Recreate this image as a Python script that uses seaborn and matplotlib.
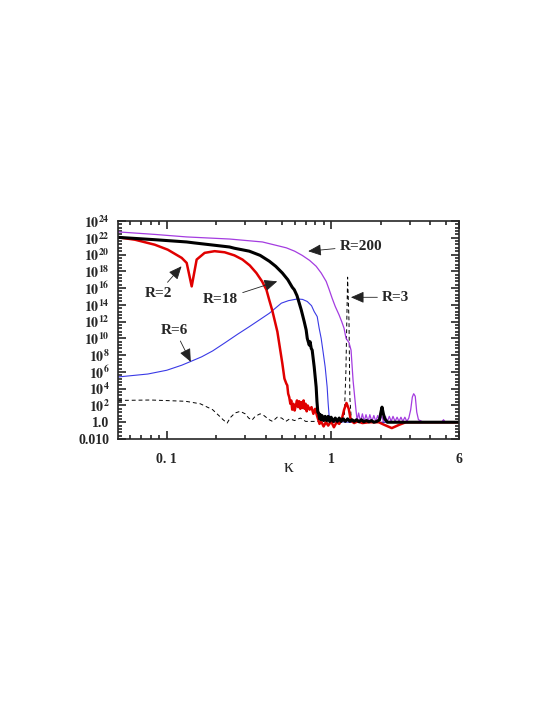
import numpy as np
import pandas as pd
import seaborn as sns
import matplotlib
matplotlib.use("Agg")
import matplotlib.pyplot as plt
from matplotlib.ticker import FixedLocator, LogLocator, NullFormatter

# curves: kappa and log10 of the quantity
k_200 = [0.0506, 0.0846, 0.1322, 0.241, 0.382, 0.534, 0.60, 0.667, 0.74, 0.811, 0.87, 0.933,
         0.97, 1.014, 1.06, 1.118, 1.16, 1.199, 1.233, 1.285, 1.322, 1.36, 1.398, 1.417, 1.44,
         1.47, 1.51, 1.55, 1.59, 1.63, 1.68, 1.72, 1.77, 1.82, 1.87, 1.92, 1.97, 2.03, 2.08, 2.14,
         2.20, 2.26, 2.32, 2.38, 2.45, 2.52, 2.59, 2.66, 2.73, 2.81, 2.89, 2.97, 3.05, 3.12, 3.18,
         3.25, 3.32, 3.40, 3.60, 4.0, 4.7, 4.83, 4.95, 6.0]
v_200 = [22.7, 22.4, 22.1, 21.85, 21.5, 20.8, 20.4, 19.9, 19.3, 18.6, 17.8, 16.8,
         15.9, 14.8, 13.8, 12.8, 12.0, 11.2, 10.0, 9.5, 8.6, 5.0, 2.6, 1.45, 0.2,
         1.1, 0.1, 1.0, 0.1, 0.9, 0.1, 0.9, 0.1, 0.8, 0.1, 0.8, 0.1, 0.8, 0.1, 0.7,
         0.1, 0.7, 0.1, 0.7, 0.1, 0.6, 0.1, 0.6, 0.1, 0.6, 0.1, 0.5, 1.5, 3.0, 3.4,
         3.1, 1.2, 0.3, 0.05, 0.0, 0.0, 0.3, 0.0, 0.0]

k_18 = [0.0506, 0.0846, 0.1322, 0.148, 0.241, 0.258, 0.318, 0.37, 0.421, 0.46, 0.505, 0.545,
        0.58, 0.597, 0.62, 0.64, 0.658, 0.686, 0.705, 0.716, 0.736, 0.745, 0.757, 0.767, 0.789,
        0.811, 0.82, 0.83, 0.84, 0.85, 0.86, 0.87, 0.88, 0.90, 0.92, 0.94, 0.96, 0.98, 1.0, 1.03,
        1.06, 1.09, 1.12, 1.15, 1.18, 1.22, 1.26, 1.30, 1.34, 1.38, 1.43, 1.48, 1.53, 1.58, 1.64,
        1.70, 1.76, 1.82, 1.90, 1.97, 2.0, 2.04, 2.08, 2.12, 2.2, 6.0]
v_18 = [22.05, 21.77, 21.5, 21.38, 20.9, 20.75, 20.4, 19.9, 19.2, 18.6, 17.8, 17.0,
        16.1, 15.8, 15.1, 14.2, 13.4, 12.0, 11.0, 10.0, 9.2, 9.6, 8.8, 8.6, 6.6,
        4.2, 2.5, 1.2, 1.1, 0.4, 0.9, 0.3, 0.8, 0.2, 0.7, 0.2, 0.7, 0.1, 0.6, 0.1,
        0.5, 0.1, 0.5, 0.1, 0.4, 0.1, 0.4, 0.1, 0.3, 0.1, 0.3, 0.05, 0.3, 0.05, 0.2,
        0.05, 0.2, 0.0, 0.1, 0.3, 1.0, 1.8, 1.0, 0.4, 0.0, 0.0]

k_2 = [0.0506, 0.064, 0.0846, 0.1014, 0.1233, 0.1322, 0.1418, 0.152, 0.170, 0.1954, 0.225,
       0.258, 0.289, 0.32, 0.351, 0.38, 0.404, 0.42, 0.439, 0.471, 0.505, 0.52, 0.534, 0.541,
       0.548, 0.556, 0.565, 0.572, 0.58, 0.59, 0.60, 0.61, 0.62, 0.63, 0.64, 0.65, 0.66, 0.67,
       0.68, 0.69, 0.70, 0.71, 0.72, 0.74, 0.76, 0.78, 0.80, 0.82, 0.835, 0.85, 0.87, 0.90,
       0.93, 0.96, 1.0, 1.04, 1.08, 1.12, 1.16, 1.20, 1.24, 1.28, 1.32, 1.38, 1.45, 1.55, 1.70,
       1.95, 2.1, 2.34, 2.6, 2.85, 6.0]
v_2 = [22.05, 21.77, 21.17, 20.58, 19.6, 19.0, 16.2, 19.4, 20.2, 20.4, 20.27,
       19.9, 19.4, 18.7, 17.8, 16.8, 15.8, 14.6, 13.3, 10.8, 7.0, 5.2, 4.6, 4.4,
       3.4, 3.0, 2.2, 2.6, 1.5, 2.2, 1.4, 2.0, 2.6, 1.8, 2.5, 1.6, 2.4, 1.7,
       2.6, 1.6, 2.2, 1.3, 2.0, 1.5, 1.8, 1.0, 1.6, 0.8, 0.3, -0.2, 0.1, -0.5,
       0.0, -0.4, 0.1, -0.6, 0.0, -0.2, 0.3, 1.5, 2.3, 1.6, 0.2, -0.1, 0.1, -0.1, 0.0,
       0.0, -0.3, -0.7, -0.3, 0.0, 0.0]

k_6 = [0.0506, 0.0767, 0.10, 0.1233, 0.138, 0.163, 0.19, 0.225, 0.27, 0.318, 0.366, 0.421,
       0.498, 0.55, 0.622, 0.67, 0.716, 0.76, 0.789, 0.823, 0.846, 0.870, 0.895, 0.920, 0.946,
       0.959, 0.972, 1.014, 1.3, 6.0]
v_6 = [5.4, 5.75, 6.2, 6.8, 7.2, 7.8, 8.5, 9.45, 10.5, 11.4, 12.2, 13.0,
       14.2, 14.5, 14.7, 14.65, 14.4, 13.9, 13.2, 12.6, 11.2, 10.0, 8.3, 6.6, 4.2,
       2.3, 0.8, 0.1, 0.0, 0.0]

k_3 = [0.0506, 0.08, 0.13, 0.16, 0.19, 0.21, 0.22, 0.233, 0.245, 0.26, 0.28, 0.30, 0.315, 0.33,
       0.345, 0.37, 0.39, 0.42, 0.44, 0.47, 0.50, 0.53, 0.56, 0.60, 0.65, 0.70, 0.80, 1.0,
       1.20, 1.23, 1.26, 1.285, 1.30, 1.33, 6.0]
v_3 = [2.6, 2.65, 2.5, 2.2, 1.5, 0.7, 0.3, -0.1, 0.6, 1.1, 1.3, 1.0, 0.5, 0.25,
       0.7, 1.0, 0.8, 0.3, 0.1, 0.6, 0.5, 0.1, 0.4, 0.2, 0.5, 0.1, 0.1, 0.0,
       0.0, 6.0, 17.3, 12.0, 3.0, 0.0, 0.0]

y_exp = [24, 22, 20, 18, 16, 14, 12, 10, 8, 6, 4, 2, 0, -2]
y_labels = [r"$\mathbf{10^{%d}}$" % e for e in y_exp[:-2]] + ["1.0", "0.010"]
x_ticks = [0.1, 1, 6]
x_labels = ["0. 1", "1", "6"]

sns.set_style("ticks")
plt.rcParams["font.family"] = ["Liberation Serif", "DejaVu Serif"]
plt.rcParams["mathtext.fontset"] = "stix"

fig = plt.figure(figsize=(5.45, 7.05), dpi=100)
ax = fig.add_axes([118 / 545, 1 - 439 / 705, 341 / 545, 218 / 705])


def curve(k, v, **kw):
    df = pd.DataFrame({"k": k, "v": 10.0 ** np.array(v)})
    sns.lineplot(data=df, x="k", y="v", ax=ax, estimator=None, sort=False, **kw)


curve(k_3, v_3, color="black", lw=0.7, linestyle=(0, (4, 3)))
curve(k_6, v_6, color="#3a3ae6", lw=0.8)
curve(k_200, v_200, color="#a43ce0", lw=0.9)
curve(k_2, v_2, color="#e00000", lw=1.8)
curve(k_18, v_18, color="black", lw=2.2)

ax.set_xscale("log")
ax.set_yscale("log")
ax.set_xlim(0.0505, 6)
ax.set_ylim(1e-2, 1e24)

ax.yaxis.set_major_locator(FixedLocator([10.0 ** e for e in y_exp]))
ax.set_yticklabels(y_labels, fontsize=10, fontweight="bold")
minor = [10.0 ** (e + f) for e in range(-2, 24, 2) for f in (0.4, 0.8, 1.2, 1.6)]
ax.yaxis.set_minor_locator(FixedLocator(minor))
ax.yaxis.set_minor_formatter(NullFormatter())

ax.xaxis.set_major_locator(FixedLocator(x_ticks))
ax.set_xticklabels(x_labels, fontsize=10, fontweight="bold")
ax.xaxis.set_minor_locator(LogLocator(base=10, subs=np.arange(2, 10)))
ax.xaxis.set_minor_formatter(NullFormatter())

ax.tick_params(which="both", direction="in", top=True, right=True, width=1.2)
ax.tick_params(which="major", length=6)
ax.tick_params(axis="y", which="major", pad=6)
ax.tick_params(axis="x", which="major", pad=10)
ax.tick_params(which="minor", length=3)
for s in ax.spines.values():
    s.set_linewidth(1.2)

ax.set_xlabel("κ", fontsize=14, labelpad=-5)
ax.set_ylabel("")

notes = [
    ("R=200", (0.725, 10 ** 20.4), (1.52, 10 ** 21.0)),
    ("R=3", (1.32, 10 ** 14.9), (2.47, 10 ** 14.9)),
    ("R=18", (0.47, 10 ** 16.8), (0.2125, 10 ** 14.6)),
    ("R=2", (0.123, 10 ** 18.6), (0.0885, 10 ** 15.4)),
    ("R=6", (0.14, 10 ** 7.2), (0.112, 10 ** 11.0)),
]
for txt, head, pos in notes:
    ax.annotate(txt, xy=head, xytext=pos, ha="center", va="center",
                fontsize=11, fontweight="bold",
                arrowprops=dict(arrowstyle="-|>,head_length=0.8,head_width=0.35",
                                color="#222222", lw=0.6, shrinkA=1, shrinkB=0,
                                mutation_scale=10))

fig.savefig("out.png", dpi=100)
